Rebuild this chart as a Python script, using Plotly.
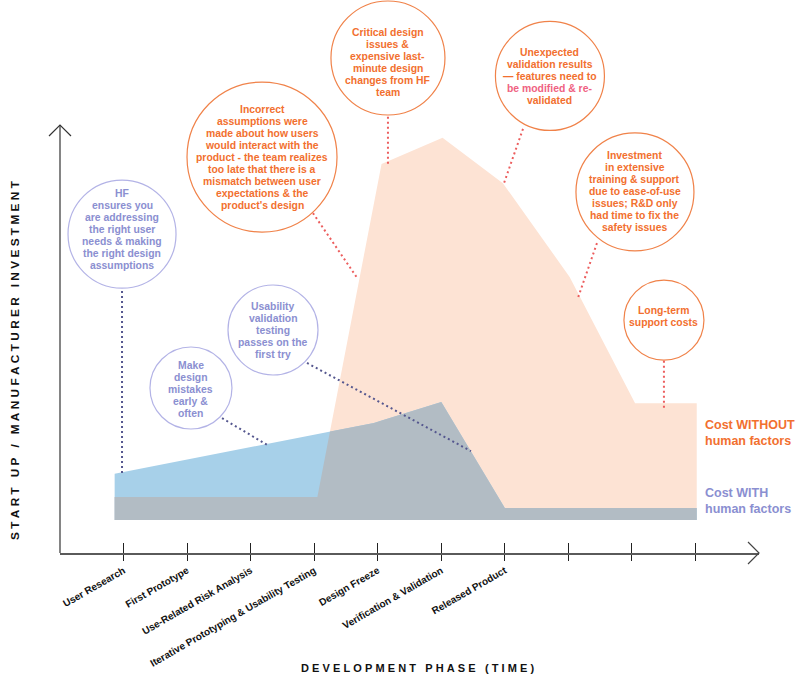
import numpy as np
import plotly.graph_objects as go

# ---------------- data ----------------
phase_labels = ["User Research", "First Prototype", "Use-Related Risk Analysis",
                "Iterative Prototyping & Usability Testing", "Design Freeze",
                "Verification & Validation", "Released Product", "", "", ""]
phase_ticks = [1, 2, 3, 4, 5, 6, 7, 8, 9, 10]

without_x = [0.86, 4.05, 5.06, 6.02, 6.97, 8.02, 9.05, 10.02]
without_y = [13.1, 13.1, 90.9, 97.0, 86.4, 64.5, 35.0, 35.0]

with_x = [0.86, 4.94, 6.0, 7.0, 10.02]
with_y = [18.5, 30.4, 35.3, 10.5, 10.5]

base_level = 7.7
y_axis_top = 100.0

bubble_texts = [
    ["HF", "ensures you", "are addressing", "the right user", "needs & making",
     "the right design", "assumptions"],
    ["Make", "design", "mistakes", "early &", "often"],
    ["Usability", "validation", "testing", "passes on the", "first try"],
    ["Incorrect", "assumptions were", "made about how users", "would interact with the",
     "product - the team realizes", "too late that there is a", "mismatch between user",
     "expectations & the", "product's design"],
    ["Critical design", "issues &", "expensive last-", "minute design",
     "changes from HF", "team"],
    ["Unexpected", "validation results", "\u2014 features need to",
     "be modified & re-", "validated"],
    ["Investment", "in extensive", "training & support", "due to ease-of-use",
     "issues; R&D only", "had time to fix the", "safety issues"],
    ["Long-term", "support costs"],
]
bubble_x = [0.976, 2.061, 3.352, 3.179, 5.161, 7.71, 9.048, 9.504]
bubble_y = [74.5, 38.55, 52.1, 92.5, 115.65, 111.45, 84.35, 54.4]
bubble_r = [54, 41, 45, 75, 57, 54.5, 59, 40]
bubble_dy = [5, -1, 0, 0, -4, -1, 0, 4]
bubble_group = ["with", "with", "with", "without", "without", "without", "without", "without"]
leader_x0 = [0.976, 2.55, 3.887, 3.981, 5.161, 7.286, 8.45, 9.504]
leader_y0 = [61.2, 31.5, 44.4, 79.4, 101.9, 99.1, 72.4, 44.9]
leader_x1 = [0.976, 3.289, 6.467, 4.689, 5.161, 6.987, 8.151, 9.504]
leader_y1 = [18.0, 25.0, 23.8, 64.0, 90.4, 86.4, 59.6, 33.4]

# ---------------- style ----------------
FONT = "Liberation Sans, Arial, Helvetica, sans-serif"
PEACH = "#fde3d4"
BLUE = "#a7d0e9"
GRAY = "#b2bcc4"
ORANGE = "#f2702f"
ORANGE_LINE = "#f08249"
PINK = "#ef6282"
PURPLE = "#8b8fd1"
PURPLE_LINE = "#b3b3e6"
NAVY_DOT = "#55578f"
RED_DOT = "#ec5d5d"

W, H = 796, 677
ML, MR, MT, MB = 60, 37, 0, 124
X_RANGE = [0, 11.0]
Y_RANGE = [0, 129.2]


def min_curve(xa, ya, xb, yb):
    xs = sorted(set(xa) | set(xb))
    lo, hi = max(xa[0], xb[0]), min(xa[-1], xb[-1])
    xs = [x for x in xs if lo <= x <= hi]
    out_x, out_y = [], []
    for i in range(len(xs) - 1):
        x0, x1 = xs[i], xs[i + 1]
        a0, a1 = np.interp([x0, x1], xa, ya)
        b0, b1 = np.interp([x0, x1], xb, yb)
        out_x.append(x0)
        out_y.append(min(a0, b0))
        d0, d1 = a0 - b0, a1 - b1
        if d0 * d1 < 0:
            t = d0 / (d0 - d1)
            out_x.append(x0 + t * (x1 - x0))
            out_y.append(a0 + t * (a1 - a0))
    out_x.append(xs[-1])
    out_y.append(min(np.interp(xs[-1], xa, ya), np.interp(xs[-1], xb, yb)))
    return out_x, out_y


def area(xs, ys, color):
    px = list(xs) + [xs[-1], xs[0]]
    py = list(ys) + [base_level, base_level]
    return go.Scatter(x=px, y=py, mode="none", fill="toself", fillcolor=color,
                      hoverinfo="skip", showlegend=False)


ov_x, ov_y = min_curve(without_x, without_y, with_x, with_y)

fig = go.Figure()
fig.add_trace(area(without_x, without_y, PEACH))
fig.add_trace(area(with_x, with_y, BLUE))
fig.add_trace(area(ov_x, ov_y, GRAY))

shapes = []
annotations = []

for i, lines in enumerate(bubble_texts):
    is_with = bubble_group[i] == "with"
    line_col = PURPLE_LINE if is_with else ORANGE_LINE
    txt_col = PURPLE if is_with else ORANGE
    r = bubble_r[i]
    shapes.append(dict(type="circle", xref="x", yref="y", xsizemode="pixel", ysizemode="pixel",
                       xanchor=bubble_x[i], yanchor=bubble_y[i], x0=-r, x1=r, y0=-r, y1=r,
                       line=dict(color=line_col, width=1.2), fillcolor="rgba(0,0,0,0)"))
    shapes.append(dict(type="line", xref="x", yref="y",
                       x0=leader_x0[i], y0=leader_y0[i], x1=leader_x1[i], y1=leader_y1[i],
                       line=dict(color=NAVY_DOT if is_with else RED_DOT, width=2, dash="2px,3px")))
    n = len(lines)
    for j, ln in enumerate(lines):
        col = PINK if ln.startswith("be modified") else txt_col
        annotations.append(dict(x=bubble_x[i], y=bubble_y[i], xref="x", yref="y",
                                text="<b>" + ln + "</b>", showarrow=False,
                                xanchor="center", yanchor="middle",
                                yshift=((n - 1) / 2 - j) * 12 + bubble_dy[i],
                                font=dict(family=FONT, size=10.4, color=col)))

annotations.append(dict(x=10.12, y=28.0, xref="x", yref="y", showarrow=False,
                        xanchor="left", yanchor="middle", align="left",
                        text="<b>Cost WITHOUT<br>human factors</b>",
                        font=dict(family=FONT, size=12.5, color=ORANGE)))
annotations.append(dict(x=10.12, y=12.15, xref="x", yref="y", showarrow=False,
                        xanchor="left", yanchor="middle", align="left",
                        text="<b>Cost WITH<br>human factors</b>",
                        font=dict(family=FONT, size=12.5, color=PURPLE)))


def spaced(s):
    return "\u2009\u200a".join(list(s))


plot_h = H - MT - MB
plot_w = W - ML - MR
annotations.append(dict(x=-45 / plot_w, y=45.1, xref="paper", yref="y", showarrow=False,
                        textangle=-90, xanchor="center", yanchor="middle",
                        text="<b>" + spaced("START UP / MANUFACTURER INVESTMENT") + "</b>",
                        font=dict(family=FONT, size=11.8, color="#111111")))
annotations.append(dict(x=5.62, y=-115 / plot_h, xref="x", yref="paper", showarrow=False,
                        xanchor="center", yanchor="middle",
                        text="<b>" + spaced("DEVELOPMENT PHASE (TIME)") + "</b>",
                        font=dict(family=FONT, size=11, color="#111111")))

y_top_paper = y_axis_top / Y_RANGE[1]
shapes.append(dict(type="line", xref="paper", yref="paper", x0=0, x1=0, y0=0, y1=y_top_paper,
                   line=dict(color="#333333", width=1.2)))
shapes.append(dict(type="path", xref="paper", yref="paper", xsizemode="pixel", ysizemode="pixel",
                   xanchor=0, yanchor=y_top_paper, path="M-11,-11 L0,0 L11,-11",
                   line=dict(color="#333333", width=1.2)))
shapes.append(dict(type="path", xref="paper", yref="paper", xsizemode="pixel", ysizemode="pixel",
                   xanchor=1, yanchor=0, path="M-11,11 L0,0 L-11,-11",
                   line=dict(color="#444444", width=1.2)))

fig.update_layout(
    width=W, height=H,
    margin=dict(l=ML, r=MR, t=MT, b=MB),
    plot_bgcolor="white", paper_bgcolor="white",
    showlegend=False,
    shapes=shapes, annotations=annotations,
    xaxis=dict(range=X_RANGE, showgrid=False, zeroline=False, showline=True,
               linecolor="#5a5a5a", linewidth=2, ticks="outside", ticklen=6,
               tickwidth=1, tickcolor="#222222", tickvals=phase_ticks,
               ticktext=["<b>" + t + "</b>" if t else "" for t in phase_labels],
               tickangle=-30, tickfont=dict(family=FONT, size=10, color="#111111")),
    xaxis2=dict(range=X_RANGE, overlaying="x", anchor="y", side="bottom", matches="x",
                showgrid=False, zeroline=False, showline=False, ticks="inside", ticklen=10,
                tickwidth=1, tickcolor="#222222", tickvals=phase_ticks, showticklabels=False),
    yaxis=dict(range=Y_RANGE, visible=False, showgrid=False, zeroline=False),
)
fig.add_trace(go.Scatter(x=[None], y=[None], xaxis="x2", yaxis="y", showlegend=False,
                         hoverinfo="skip"))

fig.write_html("out.html", config={"displayModeBar": False},
               post_script="document.body.style.margin='0px';")
